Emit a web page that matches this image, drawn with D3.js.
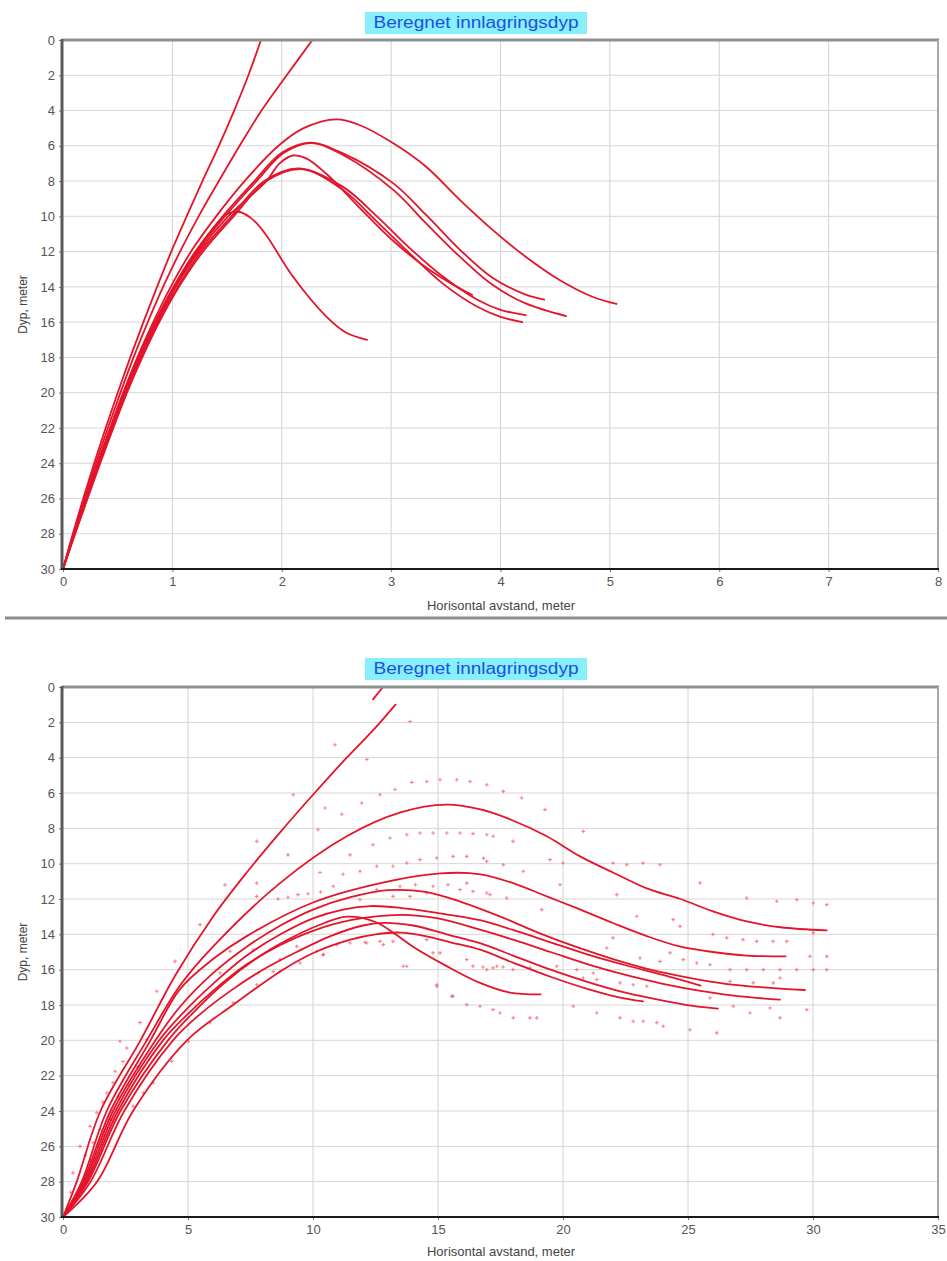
<!DOCTYPE html>
<html>
<head>
<meta charset="utf-8">
<script src="https://cdn.jsdelivr.net/npm/d3@7"></script>
<style>
  html, body { margin: 0; padding: 0; background: #ffffff; }
  svg { display: block; }
  text { font-family: "Liberation Sans", Arial, sans-serif; }
</style>
</head>
<body>
<svg id="chart" width="947" height="1261"></svg>
<script>
// ---------------- DATA ----------------
const chartTitle = "Beregnet innlagringsdyp";
const xAxisTitle = "Horisontal avstand, meter";
const yAxisTitle = "Dyp, meter";

// Top chart ticks
const topXTicks = [0, 1, 2, 3, 4, 5, 6, 7, 8];
const topYTicks = [0, 2, 4, 6, 8, 10, 12, 14, 16, 18, 20, 22, 24, 26, 28, 30];

// Top chart curves: [horizontal distance, depth]
const topA = [[0,30],[0.09,28],[0.185,26],[0.285,24],[0.39,22],[0.50,20],[0.615,18],[0.735,16],[0.86,14],[0.99,12],[1.13,10],[1.275,8],[1.425,6],[1.565,4],[1.695,2],[1.81,0]];
const topB = [[0,30],[0.095,28],[0.195,26],[0.30,24],[0.41,22],[0.525,20],[0.645,18],[0.775,16],[0.915,14],[1.07,12],[1.24,10],[1.425,8],[1.615,6],[1.815,4],[2.045,2],[2.28,0]];
const topC = [[0,30],[0.10,28],[0.205,26],[0.315,24],[0.43,22],[0.55,20],[0.68,18],[0.825,16],[0.985,14],[1.17,12],[1.40,10],[1.66,8],[1.97,6],[2.2,5.0],[2.5,4.5],[2.71,4.82],[3.02,5.86],[3.32,7.19],[3.63,9.08],[3.93,10.78],[4.23,12.29],[4.54,13.61],[4.84,14.56],[5.06,14.97]];
const topD = [[0,30],[0.10,28],[0.21,26],[0.32,24],[0.44,22],[0.56,20],[0.69,18],[0.84,16],[1.01,14],[1.21,12],[1.46,10],[1.75,8],[2.0,6.4],[2.26,5.82],[2.56,6.43],[3.02,8.13],[3.32,9.92],[3.63,11.9],[3.93,13.5],[4.23,14.44],[4.40,14.72]];
const topE = [[0,30],[0.105,28],[0.215,26],[0.325,24],[0.445,22],[0.565,20],[0.70,18],[0.85,16],[1.02,14],[1.22,12],[1.48,10],[1.77,8],[2.02,6.4],[2.27,5.85],[2.56,6.52],[3.02,8.5],[3.32,10.4],[3.63,12.3],[3.93,13.9],[4.23,14.94],[4.60,15.66]];
const topF = [[0,30],[0.105,28],[0.215,26],[0.33,24],[0.45,22],[0.57,20],[0.705,18],[0.86,16],[1.03,14],[1.24,12],[1.51,10],[1.86,8],[1.98,7.0],[2.1,6.55],[2.22,6.7],[2.41,7.6],[2.71,9.5],[3.02,11.4],[3.32,12.9],[3.63,14.1],[3.74,14.45]];
const topG = [[0,30],[0.11,28],[0.22,26],[0.335,24],[0.455,22],[0.58,20],[0.715,18],[0.87,16],[1.05,14],[1.26,12],[1.54,10],[1.84,8],[2.16,7.28],[2.56,8.33],[2.87,10.0],[3.17,11.8],[3.47,13.4],[3.78,14.7],[4.0,15.3],[4.23,15.6]];
const topH = [[0,30],[0.11,28],[0.225,26],[0.34,24],[0.46,22],[0.585,20],[0.725,18],[0.88,16],[1.06,14],[1.28,12],[1.56,10],[1.86,8],[2.18,7.32],[2.56,8.5],[2.87,10.3],[3.17,12.1],[3.47,13.8],[3.78,15.1],[4.0,15.7],[4.2,16.0]];
const topI = [[0,30],[0.105,28],[0.215,26],[0.33,24],[0.45,22],[0.57,20],[0.70,18],[0.855,16],[1.03,14],[1.23,12],[1.36,10.8],[1.48,9.95],[1.60,9.74],[1.72,10.1],[1.85,11.0],[2.10,13.4],[2.41,15.7],[2.59,16.6],[2.78,17.0]];

// Bottom chart ticks
const botXTicks = [0, 5, 10, 15, 20, 25, 30, 35];
const botYTicks = [0, 2, 4, 6, 8, 10, 12, 14, 16, 18, 20, 22, 24, 26, 28, 30];

// Bottom chart curves
const botS  = [[12.4,0.7],[12.8,0]];
const botP2 = [[0,30],[0.55,28],[1.5,24],[3.1,20],[4.5,16.3],[6.0,13.0],[7.35,10.5],[8.7,8.2],[10.0,6.1],[11.35,4.0],[12.5,2.3],[13.3,1.0]];
const botP3 = [[0,30],[0.75,28],[1.75,24],[3.35,20],[4.68,16.9],[6.0,14.7],[8.68,11.1],[11.35,8.45],[13.5,7.1],[15.35,6.66],[16.7,6.93],[17.9,7.5],[19.35,8.45],[20.7,9.6],[22.0,10.5],[23.35,11.4],[24.7,12.0],[26.0,12.7],[27.35,13.27],[28.7,13.6],[30.55,13.78]];
const botP4 = [[0,30],[0.8,28],[1.9,24],[3.5,20],[4.68,17.1],[6.0,15.4],[7.35,14.1],[10.0,12.2],[12.7,11.1],[15.1,10.55],[16.7,10.6],[18.0,11.1],[19.35,11.85],[20.7,12.6],[22.0,13.36],[23.35,14.1],[24.7,14.7],[26.0,15.0],[27.35,15.2],[28.9,15.25]];
const botQ1 = [[0,30],[0.85,28],[2.0,24],[3.7,20],[4.68,18.1],[6.0,16.2],[7.35,14.7],[8.7,13.5],[10.0,12.6],[11.5,11.9],[13.0,11.5],[14.5,11.6],[16.0,12.2],[17.5,13.0],[19.0,13.9],[20.5,14.7],[22.0,15.4],[23.5,16.0],[25.0,16.45],[26.5,16.8],[28.0,17.0],[29.68,17.15]];
const botQ2 = [[0,30],[0.9,28],[2.1,24],[3.85,20],[4.9,18.3],[6.0,16.8],[7.35,15.2],[8.7,14.0],[10.0,13.1],[11.2,12.6],[12.3,12.4],[13.5,12.5],[15.0,12.8],[16.68,13.2],[18.0,13.75],[19.5,14.45],[21.0,15.15],[22.5,15.75],[24.0,16.3],[25.5,16.9]];
const botQ3 = [[0,30],[0.95,28],[2.2,24],[4.0,20],[5.0,18.5],[6.0,17.2],[7.35,15.7],[8.7,14.6],[10.0,13.8],[11.5,13.2],[13.5,12.9],[15.0,13.1],[16.68,13.74],[18.0,14.3],[19.5,15.0],[21.0,15.7],[22.5,16.3],[24.0,16.8],[25.5,17.2],[27.0,17.5],[28.68,17.7]];
const botQ4 = [[0,30],[1.1,28],[2.45,24],[4.4,20],[5.5,18.5],[6.7,17.2],[8.0,16.0],[9.35,15.0],[10.7,14.1],[12.0,13.5],[12.8,13.35],[14.0,13.5],[15.35,14.0],[16.68,14.5],[18.0,15.2],[19.5,16.0],[21.0,16.7],[22.5,17.3],[24.0,17.75],[25.2,18.05],[26.2,18.2]];
const botQ5 = [[0,30],[1.36,28],[2.8,24],[4.96,20],[6.8,18],[8.8,16],[10.1,15.0],[11.5,14.3],[12.5,14.0],[13.5,13.9],[14.5,14.1],[15.5,14.45],[16.68,14.87],[18.0,15.6],[19.5,16.4],[21.0,17.1],[22.2,17.55],[23.2,17.8]];
const botR  = [[0,30],[1.0,28],[2.3,24],[4.2,20],[5.3,18.3],[6.5,16.7],[7.8,15.3],[9.0,14.3],[10.2,13.5],[11.35,13.0],[12.5,13.3],[13.3,14.0],[14.0,14.7],[15.35,15.8],[16.68,16.75],[17.88,17.3],[19.1,17.4]];

// Bottom chart scattered observation markers
const botPoints = [
  [10.88,3.27],[12.15,4.1],[13.88,1.95],[9.21,6.1],[10.48,6.85],[11.15,7.2],[11.95,6.57],[12.68,6.1],[13.28,5.8],
  [13.95,5.4],[14.55,5.35],[15.08,5.25],[15.75,5.25],[16.28,5.35],[16.95,5.53],[17.61,5.91],[18.35,6.28],[19.28,6.94],
  [7.75,8.74],[10.2,8.08],[9.0,9.5],[11.48,9.5],[12.4,8.93],[13.08,8.55],[13.75,8.36],[14.28,8.26],[14.8,8.26],
  [15.35,8.26],[15.88,8.26],[16.4,8.3],[16.95,8.36],[17.21,8.45],[18.0,8.74],[20.81,8.17],
  [6.48,11.2],[7.75,11.1],[10.28,10.5],[11.2,10.6],[11.88,10.43],[12.55,10.15],[13.2,10.15],[13.75,9.96],[14.28,9.77],
  [14.95,9.68],[15.6,9.59],[16.15,9.59],[16.82,9.7],[16.95,9.87],[17.61,10.06],[18.41,10.43],[19.48,9.77],[20.0,9.96],
  [22.0,9.96],[22.55,10.06],[23.2,9.96],[23.88,10.06],[25.48,11.09],[19.88,11.19],
  [5.48,13.45],[7.75,11.85],[8.6,12.0],[9.0,11.9],[9.4,11.75],[9.8,11.7],[10.3,11.6],[10.81,11.28],
  [12.55,11.47],[13.48,11.28],[14.1,11.19],[14.8,11.28],[15.4,11.19],[16.15,11.1],[16.95,11.66],[17.75,11.94],
  [11.88,12.04],[13.2,11.85],[13.88,11.85],[14.55,11.66],[15.88,11.47],[16.4,11.57],[17.08,11.75],
  [19.15,12.6],[22.15,11.75],[22.95,12.98],[24.41,13.17],[24.68,13.55],
  [27.35,11.94],[28.55,12.13],[29.35,12.04],[30.01,12.23],[30.55,12.32],
  [26.0,14.0],[26.55,14.2],[27.2,14.3],[27.75,14.4],[28.4,14.4],[28.95,14.4],[30.01,13.92],[22.0,14.2],
  [21.75,14.77],[23.08,15.34],[23.88,15.53],[24.28,15.05],[24.81,15.43],[25.35,15.62],[25.88,15.72],
  [26.68,16.0],[27.35,16.0],[28.01,16.0],[28.68,16.0],[29.35,16.0],[30.01,16.0],[30.55,16.0],[29.88,15.25],[30.55,15.25],
  [16.95,16.0],[17.35,15.81],[18.0,16.0],[18.68,15.9],[19.75,15.81],[20.55,16.0],[21.21,16.19],[20.81,16.47],[21.35,16.56],
  [22.28,16.75],[22.81,16.85],[23.35,16.94],[26.68,16.66],[27.61,16.75],[28.41,16.75],[28.68,16.47],
  [25.88,17.6],[26.81,18.07],[27.48,18.45],[28.28,18.17],[28.68,18.73],[29.75,18.26],
  [20.41,18.07],[21.35,18.45],[22.28,18.73],[22.81,18.92],[23.21,18.92],[23.75,19.0],[24.01,19.2],[25.08,19.4],[26.15,19.58],
  [16.68,18.07],[17.48,18.45],[18.01,18.73],[18.68,18.73],[18.95,18.73],
  [6.68,14.96],[6.28,16.19],[7.61,14.87],[8.68,15.43],[9.35,14.68],[10.15,14.96],[10.41,15.15],
  [10.95,14.58],[11.48,14.49],[12.08,14.45],[12.68,14.4],[13.2,14.4],[13.75,15.81],[14.8,15.05],[14.95,16.94],[15.6,17.5],
  [16.15,15.43],[16.4,15.8],[16.8,15.85],[17.2,15.9],[17.6,15.85],[16.15,17.98],[17.2,18.26],
  [7.81,16.19],[8.41,16.1],[6.81,17.88],[3.75,17.22],[4.48,15.53],[3.08,19.0],[2.28,20.05],[2.55,20.43],
  [2.08,21.75],[1.75,22.98],[1.35,24.1],[1.08,24.87],[0.68,26.0],[3.35,19.96],[4.35,21.19],[5.01,20.06],[5.88,19.0],
  [7.75,16.85],[8.68,16.1],[9.48,15.62],[10.41,15.15],[12.15,14.49],[12.81,14.58],[3.61,22.41],[3.21,22.98],[2.81,23.73],
  [1.48,25.05],[13.61,15.81],[14.95,16.85],[15.55,17.51],[15.08,15.05],[14.55,14.3],
  [0.4,27.5],[0.9,26.5],[1.2,25.8],[1.6,23.5],[2.0,22.4],[2.4,21.2],[2.6,22.5],[1.9,24.5],[1.1,26.8],[0.3,28.6],[3.0,21.5],[2.2,23.2]
];

// ---------------- DRAWING ----------------
const svg = d3.select("#chart");
const lineColor = "#e4142a";

function drawChart(cfg) {
  const g = svg.append("g");
  const x = d3.scaleLinear().domain(cfg.xDomain).range([63, 938]);
  const y = d3.scaleLinear().domain([0, 30]).range([cfg.top, cfg.bottom]);

  // grid
  g.append("g").selectAll("line").data(cfg.xTicks.filter(d => d > cfg.xDomain[0] && d < cfg.xDomain[1]))
    .join("line").attr("x1", d => x(d)).attr("x2", d => x(d))
    .attr("y1", cfg.top).attr("y2", cfg.bottom)
    .attr("stroke", "#d2d2d2").attr("stroke-width", 1);
  g.append("g").selectAll("line").data(cfg.yTicks.filter(d => d > 0 && d < 30))
    .join("line").attr("x1", 63).attr("x2", 938)
    .attr("y1", d => y(d)).attr("y2", d => y(d))
    .attr("stroke", "#d6d6d6").attr("stroke-width", 1);

  // scatter markers
  if (cfg.points) {
    const s = 1.8;
    g.append("g").selectAll("path").data(cfg.points).join("path")
      .attr("d", d => {
        const px = x(d[0]), py = y(d[1]);
        return `M${px - s},${py}H${px + s}M${px},${py - s}V${py + s}`;
      })
      .attr("stroke", "#f0505f").attr("stroke-width", 1.1).attr("opacity", 0.7).attr("fill", "none");
  }

  // curves
  const line = d3.line().x(d => x(d[0])).y(d => y(d[1])).curve(d3.curveCatmullRom.alpha(0.5));
  g.append("g").selectAll("path").data(cfg.curves).join("path")
    .attr("d", line)
    .attr("fill", "none")
    .attr("stroke", lineColor)
    .attr("stroke-width", 1.8)
    .attr("stroke-linejoin", "round")
    .attr("stroke-linecap", "round");

  // frame
  g.append("line").attr("x1", 62).attr("x2", 939).attr("y1", cfg.top).attr("y2", cfg.top)
    .attr("stroke", "#8f8f8f").attr("stroke-width", 3);
  g.append("line").attr("x1", 938).attr("x2", 938).attr("y1", cfg.top).attr("y2", cfg.bottom)
    .attr("stroke", "#a8a8a8").attr("stroke-width", 2);

  // axes
  const yAxis = d3.axisLeft(y).tickValues(cfg.yTicks).tickSize(3).tickPadding(4);
  const ya = g.append("g").attr("transform", "translate(62,0)").call(yAxis);
  ya.select(".domain").remove();
  ya.selectAll(".tick line").attr("stroke", "#777");
  ya.selectAll("text").attr("fill", "#555").attr("font-size", 13)
    .attr("font-family", "'Liberation Sans', Arial, sans-serif");

  const xAxis = d3.axisBottom(x).tickValues(cfg.xTicks).tickSize(3).tickPadding(5);
  const xa = g.append("g").attr("transform", `translate(0,${cfg.bottom})`).call(xAxis);
  xa.select(".domain").remove();
  xa.selectAll(".tick line").attr("stroke", "#777");
  xa.selectAll("text").attr("fill", "#555").attr("font-size", 13)
    .attr("font-family", "'Liberation Sans', Arial, sans-serif");

  g.append("line").attr("x1", 62).attr("x2", 62).attr("y1", cfg.top - 1).attr("y2", cfg.bottom + 1)
    .attr("stroke", "#5a5a5a").attr("stroke-width", 3);
  g.append("line").attr("x1", 61).attr("x2", 939).attr("y1", cfg.bottom).attr("y2", cfg.bottom)
    .attr("stroke", "#1a1a1a").attr("stroke-width", 2);

  // title
  g.append("rect").attr("x", 365).attr("y", cfg.titleY - 11).attr("width", 222).attr("height", 22)
    .attr("fill", "#88f0fd");
  g.append("text").attr("x", 476).attr("y", cfg.titleY + 5).attr("text-anchor", "middle")
    .attr("font-size", 16).attr("fill", "#1d4fe0")
    .attr("textLength", 205).attr("lengthAdjust", "spacingAndGlyphs")
    .text(chartTitle);

  // axis titles
  g.append("text").attr("x", 501).attr("y", cfg.xTitleY).attr("text-anchor", "middle")
    .attr("font-size", 13).attr("fill", "#444").text(xAxisTitle);
  g.append("text").attr("transform", `translate(27,${(cfg.top + cfg.bottom) / 2}) rotate(-90)`)
    .attr("text-anchor", "middle").attr("font-size", 12).attr("fill", "#444").text(yAxisTitle);
}

drawChart({
  xDomain: [0, 8], top: 40, bottom: 569, titleY: 23, xTitleY: 610,
  xTicks: topXTicks, yTicks: topYTicks,
  curves: [topA, topB, topC, topD, topE, topF, topG, topH, topI]
});

// separator
svg.append("line").attr("x1", 5).attr("x2", 947).attr("y1", 618).attr("y2", 618)
  .attr("stroke", "#8c8c8c").attr("stroke-width", 3);

drawChart({
  xDomain: [0, 35], top: 687, bottom: 1217, titleY: 669, xTitleY: 1256,
  xTicks: botXTicks, yTicks: botYTicks,
  points: botPoints,
  curves: [botS, botP2, botP3, botP4, botQ1, botQ2, botQ3, botQ4, botQ5, botR]
});
</script>
</body>
</html>
